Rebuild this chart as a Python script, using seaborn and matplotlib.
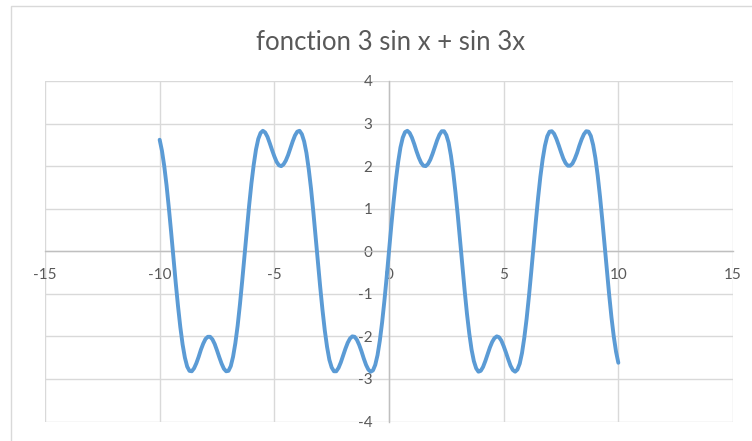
import matplotlib
matplotlib.use("Agg")
import matplotlib.pyplot as plt
from matplotlib.patches import Rectangle
import seaborn as sns
import pandas as pd

# Sampled x positions, -10 to 10 in steps of 0.1
x_values = [
    -10.0, -9.9, -9.8, -9.7, -9.6, -9.5, -9.4, -9.3, -9.2, -9.1,
    -9.0, -8.9, -8.8, -8.7, -8.6, -8.5, -8.4, -8.3, -8.2, -8.1,
    -8.0, -7.9, -7.8, -7.7, -7.6, -7.5, -7.4, -7.3, -7.2, -7.1,
    -7.0, -6.9, -6.8, -6.7, -6.6, -6.5, -6.4, -6.3, -6.2, -6.1,
    -6.0, -5.9, -5.8, -5.7, -5.6, -5.5, -5.4, -5.3, -5.2, -5.1,
    -5.0, -4.9, -4.8, -4.7, -4.6, -4.5, -4.4, -4.3, -4.2, -4.1,
    -4.0, -3.9, -3.8, -3.7, -3.6, -3.5, -3.4, -3.3, -3.2, -3.1,
    -3.0, -2.9, -2.8, -2.7, -2.6, -2.5, -2.4, -2.3, -2.2, -2.1,
    -2.0, -1.9, -1.8, -1.7, -1.6, -1.5, -1.4, -1.3, -1.2, -1.1,
    -1.0, -0.9, -0.8, -0.7, -0.6, -0.5, -0.4, -0.3, -0.2, -0.1,
    0.0,
    0.1, 0.2, 0.3, 0.4, 0.5, 0.6, 0.7, 0.8, 0.9, 1.0,
    1.1, 1.2, 1.3, 1.4, 1.5, 1.6, 1.7, 1.8, 1.9, 2.0,
    2.1, 2.2, 2.3, 2.4, 2.5, 2.6, 2.7, 2.8, 2.9, 3.0,
    3.1, 3.2, 3.3, 3.4, 3.5, 3.6, 3.7, 3.8, 3.9, 4.0,
    4.1, 4.2, 4.3, 4.4, 4.5, 4.6, 4.7, 4.8, 4.9, 5.0,
    5.1, 5.2, 5.3, 5.4, 5.5, 5.6, 5.7, 5.8, 5.9, 6.0,
    6.1, 6.2, 6.3, 6.4, 6.5, 6.6, 6.7, 6.8, 6.9, 7.0,
    7.1, 7.2, 7.3, 7.4, 7.5, 7.6, 7.7, 7.8, 7.9, 8.0,
    8.1, 8.2, 8.3, 8.4, 8.5, 8.6, 8.7, 8.8, 8.9, 9.0,
    9.1, 9.2, 9.3, 9.4, 9.5, 9.6, 9.7, 9.8, 9.9, 10.0,
]

# Values of 3 sin x + sin 3x at those positions
y_values = [
    2.62, 2.36, 2.00, 1.55, 1.02, 0.45, -0.15, -0.74, -1.29, -1.78,
    -2.19, -2.50, -2.71, -2.81, -2.82, -2.75, -2.63, -2.48, -2.31, -2.17,
    -2.06, -2.01, -2.01, -2.07, -2.18, -2.33, -2.49, -2.64, -2.76, -2.82,
    -2.81, -2.70, -2.48, -2.16, -1.75, -1.25, -0.69, -0.10, 0.50, 1.07,
    1.59, 2.03, 2.39, 2.64, 2.78, 2.83, 2.79, 2.69, 2.54, 2.38,
    2.23, 2.10, 2.02, 2.00, 2.04, 2.13, 2.26, 2.42, 2.58, 2.72,
    2.81, 2.83, 2.75, 2.58, 2.31, 1.93, 1.47, 0.93, 0.35, -0.25,
    -0.84, -1.38, -1.86, -2.25, -2.55, -2.73, -2.82, -2.82, -2.74, -2.61,
    -2.45, -2.29, -2.15, -2.05, -2.00, -2.01, -2.08, -2.20, -2.35, -2.52,
    -2.67, -2.78, -2.83, -2.80, -2.67, -2.44, -2.10, -1.67, -1.16, -0.60,
    0.00,
    0.60, 1.16, 1.67, 2.10, 2.44, 2.67, 2.80, 2.83, 2.78, 2.67,
    2.52, 2.35, 2.20, 2.08, 2.01, 2.00, 2.05, 2.15, 2.29, 2.45,
    2.61, 2.74, 2.82, 2.82, 2.73, 2.55, 2.25, 1.86, 1.38, 0.84,
    0.25, -0.35, -0.93, -1.47, -1.93, -2.31, -2.58, -2.75, -2.83, -2.81,
    -2.72, -2.58, -2.42, -2.26, -2.13, -2.04, -2.00, -2.02, -2.10, -2.23,
    -2.38, -2.54, -2.69, -2.79, -2.83, -2.78, -2.64, -2.39, -2.03, -1.59,
    -1.07, -0.50, 0.10, 0.69, 1.25, 1.75, 2.16, 2.48, 2.70, 2.81,
    2.82, 2.76, 2.64, 2.49, 2.33, 2.18, 2.07, 2.01, 2.01, 2.06,
    2.17, 2.31, 2.48, 2.63, 2.75, 2.82, 2.81, 2.71, 2.50, 2.19,
    1.78, 1.29, 0.74, 0.15, -0.45, -1.02, -1.55, -2.00, -2.36, -2.62,
]

x_ticks = [-15, -10, -5, 0, 5, 10, 15]
y_ticks = [-4, -3, -2, -1, 0, 1, 2, 3, 4]
title_text = "fonction 3 sin x + sin 3x"

sns.set_theme(style="white")
plt.rcParams["font.family"] = ["Lato", "DejaVu Sans"]
plt.rcParams["axes.unicode_minus"] = False

TEXT = "#595959"
GRID = "#D9D9D9"
AXIS = "#BFBFBF"
LINE = "#5B9BD5"

W, H = 752, 441
fig = plt.figure(figsize=(W / 100, H / 100), dpi=100)
fig.patch.set_facecolor("white")

# Chart frame (extends past the right/bottom edge of the canvas)
fig.add_artist(Rectangle((11 / W, -0.2), 1.2, (H - 6) / H + 0.2,
                         transform=fig.transFigure, fill=False,
                         edgecolor=GRID, linewidth=1.0))

left, right = 45 / W, 733 / W
top, bottom = 1 - 81 / H, 1 - 421.5 / H
ax = fig.add_axes([left, bottom, right - left, top - bottom])

df = pd.DataFrame({"x": x_values, "y": y_values})
sns.lineplot(data=df, x="x", y="y", ax=ax, sort=False, estimator=None,
             color=LINE, linewidth=2.8, zorder=5,
             solid_joinstyle="round", solid_capstyle="round")

ax.set_xlim(x_ticks[0], x_ticks[-1])
ax.set_ylim(y_ticks[0], y_ticks[-1])
ax.set_xticks(x_ticks)
ax.set_yticks(y_ticks)
ax.set_xlabel("")
ax.set_ylabel("")
ax.grid(True, color=GRID, linewidth=1.0, zorder=0)
ax.set_axisbelow(True)

for side in ("top", "right"):
    ax.spines[side].set_visible(False)
for side in ("left", "bottom"):
    ax.spines[side].set_position(("data", 0))
    ax.spines[side].set_color(AXIS)
    ax.spines[side].set_linewidth(1.0)
    ax.spines[side].set_zorder(1)

ax.tick_params(axis="both", length=0, labelsize=11, labelcolor=TEXT)
ax.tick_params(axis="x", pad=12)
ax.tick_params(axis="y", pad=12)

fig.text(391 / W, 1 - 42 / H, title_text, ha="center", va="center",
         fontsize=18.5, color=TEXT)

fig.savefig("out.png", dpi=100, facecolor="white")
